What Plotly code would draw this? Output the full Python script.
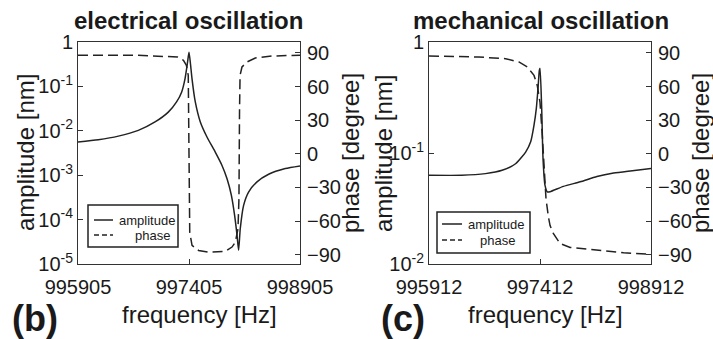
import plotly.graph_objects as go

# ---------------- data ----------------
# (b) electrical oscillation
e_amp_freq = [995905, 996179, 996450, 996720, 996946, 997125, 997237, 997305, 997351,
              997386, 997405, 997425, 997446, 997490, 997558, 997648, 997760, 997851,
              997919, 997977, 998021, 998054, 998075, 998098, 998143, 998210, 998324,
              998481, 998706, 998905]
e_amp = [5.62e-3, 6.31e-3, 7.59e-3, 1.02e-2, 1.58e-2, 2.63e-2, 4.47e-2, 7.41e-2, 0.148,
         0.355, 0.59, 0.32, 0.148, 0.0447, 0.0158, 7.24e-3, 3.31e-3, 1.66e-3,
         8.3e-4, 3.55e-4, 1.26e-4, 4.47e-5, 2.04e-5, 6.3e-5, 2.09e-4, 4.17e-4, 7.08e-4,
         1.05e-3, 1.41e-3, 1.62e-3]

e_ph_freq = [995905, 996700, 997250, 997330, 997370, 997395, 997405, 997415, 997446,
             997535, 997670, 997896, 997986, 998031, 998067, 998080, 998088, 998095,
             998121, 998189, 998301, 998527, 998905]
e_phase = [88, 88, 86.4, 83.5, 79, 70, 0, -70, -81.7,
           -86.2, -87.7, -87.1, -83.2, -78.8, -66.9, -40, 40, 70,
           77.5, 82, 85.5, 87.3, 88]

# (c) mechanical oscillation
m_amp_freq = [995912, 996354, 996675, 996900, 997082, 997218, 997286, 997331, 997362,
              997385, 997403, 997412, 997435, 997453, 997480, 997511, 997548, 997728,
              997955, 998181, 998407, 998633, 998912]
m_amp = [0.063, 0.063, 0.0652, 0.0698, 0.080, 0.102, 0.126, 0.178, 0.251,
         0.38, 0.556, 0.58, 0.25, 0.089, 0.051, 0.0446, 0.0448, 0.050,
         0.055, 0.0614, 0.066, 0.069, 0.0725]

m_ph_freq = [995912, 996584, 996947, 997127, 997240, 997331, 997375, 997412, 997443,
             997466, 997493, 997525, 997548, 997592, 997683, 997819, 998181, 998542,
             998912]
m_phase = [87.3, 86.4, 84.9, 82, 77.5, 70, 61, 46, 16.5,
           -13, -40, -56, -64, -71, -80, -83.5, -86, -88.3,
           -89.7]

e_xticks = [995905, 997405, 998905]
m_xticks = [995912, 997412, 998912]
e_yticks = [1e-5, 1e-4, 1e-3, 1e-2, 1e-1, 1]
e_ytext = ["10<sup>-5</sup>", "10<sup>-4</sup>", "10<sup>-3</sup>", "10<sup>-2</sup>",
           "10<sup>-1</sup>", "1"]
m_yticks = [1e-2, 1e-1, 1]
m_ytext = ["10<sup>-2</sup>", "10<sup>-1</sup>", "1"]
ph_ticks = [-90, -60, -30, 0, 30, 60, 90]
legend_names = ["amplitude", "phase"]

# ---------------- figure ----------------
W, H = 713, 339
FONT = "Liberation Sans, Arial, Helvetica, sans-serif"
INK = "#1a1a1a"
LINE = "#222222"
DASH = "10px,5px"

def px(x):
    return x / W

def py(y):
    return 1 - y / H

fig = go.Figure()

fig.add_trace(go.Scatter(x=e_amp_freq, y=e_amp, mode="lines", name=legend_names[0],
                         line=dict(color=LINE, width=1.5, shape="spline", smoothing=0.6),
                         xaxis="x", yaxis="y", showlegend=False))
fig.add_trace(go.Scatter(x=e_ph_freq, y=e_phase, mode="lines", name=legend_names[1],
                         line=dict(color=LINE, width=1.5, dash=DASH), xaxis="x", yaxis="y2",
                         showlegend=False))
fig.add_trace(go.Scatter(x=m_amp_freq, y=m_amp, mode="lines", name=legend_names[0],
                         line=dict(color=LINE, width=1.5, shape="spline", smoothing=0.6),
                         xaxis="x2", yaxis="y3", showlegend=False))
fig.add_trace(go.Scatter(x=m_ph_freq, y=m_phase, mode="lines", name=legend_names[1],
                         line=dict(color=LINE, width=1.5, dash=DASH), xaxis="x2", yaxis="y4",
                         showlegend=False))

tickfont = dict(family=FONT, size=20, color=INK)
common = dict(showline=True, linecolor="#333", linewidth=1, ticks="inside", ticklen=5,
              tickcolor="#333", showgrid=False, zeroline=False, tickfont=tickfont,
              automargin=False)

yd = [py(264), py(42)]
fig.update_layout(
    width=W, height=H, margin=dict(l=0, r=0, t=0, b=0, autoexpand=False),
    paper_bgcolor="white", plot_bgcolor="white", showlegend=False,
    xaxis=dict(domain=[px(78), px(300)], range=[995905, 998905], tickvals=e_xticks,
               ticktext=[str(v) for v in e_xticks], mirror=True, anchor="y",
               ticklabelstandoff=5, **common),
    yaxis=dict(domain=yd, type="log", range=[-5, 0], tickvals=e_yticks, ticktext=e_ytext,
               anchor="x", **common),
    yaxis2=dict(overlaying="y", side="right", range=[-98.3, 99.8], tickvals=ph_ticks,
                anchor="x", ticklabelstandoff=2, **common),
    xaxis2=dict(domain=[px(429), px(651)], range=[995912, 998912], tickvals=m_xticks,
                ticktext=[str(v) for v in m_xticks], mirror=True, anchor="y3",
                ticklabelstandoff=5, **common),
    yaxis3=dict(domain=yd, type="log", range=[-2, 0], tickvals=m_yticks, ticktext=m_ytext,
                anchor="x2", **common),
    yaxis4=dict(overlaying="y3", side="right", range=[-98.3, 99.8], tickvals=ph_ticks,
                anchor="x2", ticklabelstandoff=2, **common),
)

def ann(text, x, y, size, bold=False, angle=0, xanchor="center"):
    fig.add_annotation(text=f"<b>{text}</b>" if bold else text, x=px(x), y=py(y),
                       xref="paper", yref="paper", showarrow=False, textangle=angle,
                       xanchor=xanchor, yanchor="middle",
                       font=dict(family=FONT, size=size, color=INK))

ann("electrical oscillation", 188.5, 21, 24, bold=True)
ann("mechanical oscillation", 541, 21, 24, bold=True)
ann("amplitude [nm]", 25, 153, 24, angle=-90)
ann("phase [degree]", 350, 153, 24, angle=-90)
ann("amplitude [nm]", 383, 153, 24, angle=-90)
ann("phase [degree]", 700, 153, 24, angle=-90)
ann("frequency [Hz]", 199, 314, 24)
ann("frequency [Hz]", 545, 314, 24)
ann("(b)", 35, 318, 36, bold=True)
ann("(c)", 403, 318, 36, bold=True)

# legend boxes (MATLAB-style) in paper coordinates
def legend_box(x0, y0, x1, y1, ly1, ly2, lx0, lx1, tx1, tx2):
    fig.add_shape(type="rect", xref="paper", yref="paper", x0=px(x0), x1=px(x1),
                  y0=py(y1), y1=py(y0), line=dict(color="#222", width=1.5),
                  fillcolor="white", layer="above")
    fig.add_shape(type="line", xref="paper", yref="paper", x0=px(lx0), x1=px(lx1),
                  y0=py(ly1), y1=py(ly1), line=dict(color=LINE, width=1.5), layer="above")
    fig.add_shape(type="line", xref="paper", yref="paper", x0=px(lx0), x1=px(lx1),
                  y0=py(ly2), y1=py(ly2), line=dict(color=LINE, width=1.5, dash="5px,3px"),
                  layer="above")
    fig.add_annotation(text=legend_names[0], x=px(tx1), y=py(ly1), xref="paper", yref="paper",
                       showarrow=False, xanchor="center", yanchor="middle",
                       font=dict(family=FONT, size=13, color=INK))
    fig.add_annotation(text=legend_names[1], x=px(tx2), y=py(ly2), xref="paper", yref="paper",
                       showarrow=False, xanchor="center", yanchor="middle",
                       font=dict(family=FONT, size=13, color=INK))

legend_box(88, 205, 178, 247, 220, 235, 94, 113, 146.5, 152)
legend_box(437, 212, 530, 253, 224, 240, 442, 462, 496, 497)

fig.write_html("out.html")
